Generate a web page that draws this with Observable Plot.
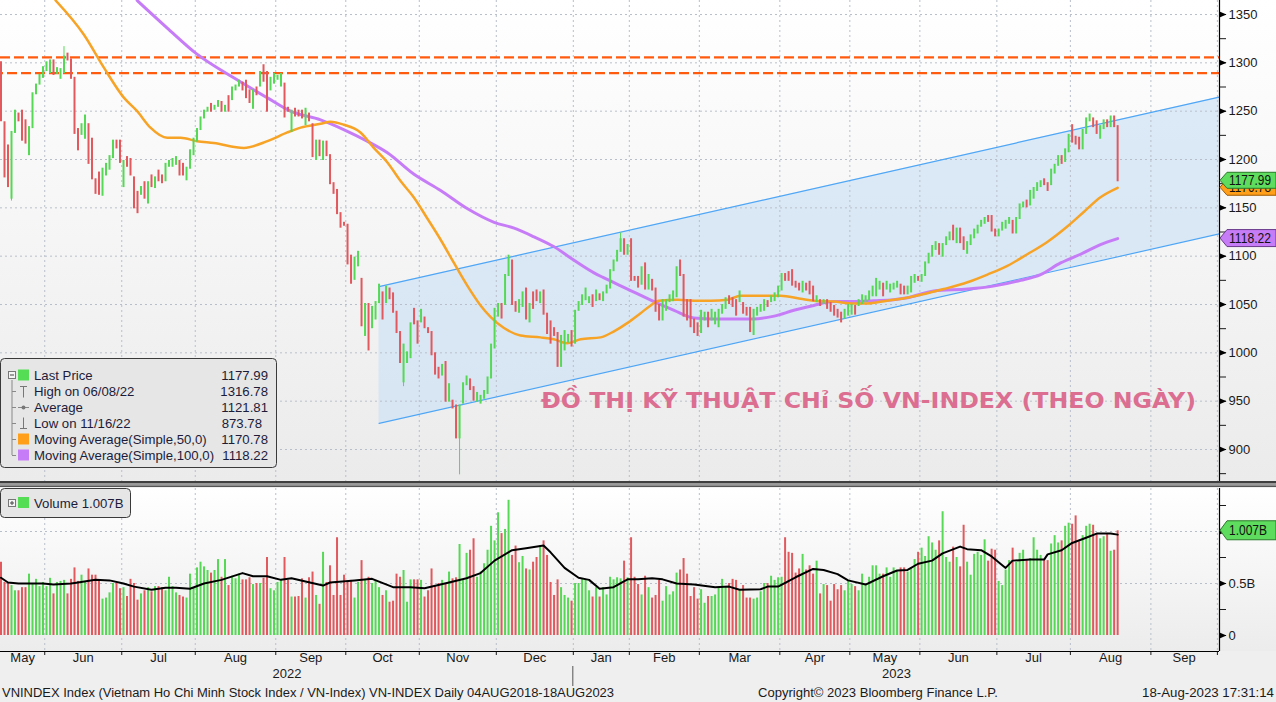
<!DOCTYPE html>
<html><head><meta charset="utf-8">
<script src="https://cdn.jsdelivr.net/npm/d3@7"></script>
<script src="https://cdn.jsdelivr.net/npm/@observablehq/plot@0.6"></script>
<style>
html,body{margin:0;padding:0;background:#efefef;}
#root{position:relative;width:1276px;height:702px;overflow:hidden;background:#efefef;}
#pricePanel{position:absolute;left:0;top:0;width:1276px;height:481px;background:linear-gradient(#ffffff,#ebebeb);}
#volPanel{position:absolute;left:0;top:488px;width:1276px;height:214px;background:linear-gradient(#ffffff 0px,#ececec 163px,#efefef 163px);}
#overlay{position:absolute;left:0;top:0;}
</style></head>
<body><div id="root"><div id="pricePanel"></div><div id="volPanel"></div></div>
<script>
// ---------------- DATA ----------------
const firstDay = "2022-05-13";
const holidays = ["2022-09-01","2022-09-02","2023-01-02","2023-01-20","2023-01-23","2023-01-24","2023-01-25","2023-01-26","2023-05-01","2023-05-02","2023-05-03","2023-09-01","2023-09-04"];

const openPx = [
1300,1238,1214,1160,1228,1247,1250,1240,1205,1233,
1268,1278,1285,1292,1290,1302,1289,1284,1290,1309,
1303,1284,1231,1226,1222,1236,1221,1179,1186,1163,
1184,1190,1202,1219,1219,1172,1202,1200,1181,1166,
1164,1176,1155,1183,1171,1188,1183,1178,1193,1193,
1195,1198,1195,1179,1191,1205,1219,1231,1243,1250,
1257,1252,1255,1259,1250,1265,1262,1272,1276,1279,
1281,1271,1253,1274,1276,1297,1290,1272,1279,1283,
1276,1278,1253,1229,1252,1250,1250,1236,1247,1236,
1200,1219,1200,1218,1204,1175,1168,1144,1134,1132,
1100,1076,1090,1076,1018,1050,1026,1035,1052,1062,
1052,1066,1061,1042,1021,970,990,995,1045,1032,
1032,1036,1025,1021,999,984,977,990,950,950,
945,912,948,967,972,964,950,948,953,958,
974,1005,1038,1050,1050,1080,1095,1052,1042,1048,
1066,1032,1062,1064,1052,1064,1040,1032,1025,1020,
986,1003,1011,1022,1010,1044,1050,1055,1052,1059,
1054,1060,1054,1062,1067,1085,1095,1105,1117,1102,
1117,1078,1078,1071,1092,1066,1075,1066,1049,1034,
1044,1053,1054,1058,1095,1080,1054,1054,1034,1030,
1021,1034,1041,1034,1030,1027,1041,1046,1058,1056,
1054,1053,1051,1046,1046,1019,1039,1043,1044,1053,
1053,1054,1058,1065,1081,1083,1085,1073,1071,1063,
1071,1073,1068,1053,1054,1051,1054,1051,1048,1044,
1041,1036,1039,1040,1048,1049,1051,1053,1055,1059,
1059,1066,1071,1066,1063,1066,1068,1070,1068,1061,
1063,1073,1078,1074,1080,1093,1100,1107,1112,1100,
1112,1117,1131,1114,1128,1119,1103,1112,1119,1124,
1131,1134,1141,1141,1127,1121,1127,1129,1134,1136,
1124,1139,1151,1157,1153,1160,1168,1172,1179,1175,
1174,1186,1194,1203,1198,1208,1235,1223,1222,1211,
1227,1240,1242,1239,1222,1232,1240,1234,1244,1234];

const closePx = [
1240,1182,1172,1228,1250,1240,1220,1217,1233,1268,
1277,1287,1295,1300,1302,1288,1294,1293,1306,1303,
1284,1227,1210,1236,1245,1196,1180,1165,1164,1190,
1195,1203,1219,1212,1197,1198,1193,1184,1150,1145,
1171,1160,1176,1172,1181,1178,1176,1195,1198,1200,
1202,1184,1184,1191,1209,1221,1231,1243,1250,1253,
1250,1255,1260,1250,1255,1250,1274,1276,1281,1272,
1264,1259,1271,1267,1290,1281,1250,1284,1288,1286,
1288,1244,1250,1250,1245,1245,1243,1252,1240,1203,
1219,1204,1218,1204,1175,1165,1144,1130,1132,1092,
1072,1098,1104,1028,1050,1003,1047,1052,1070,1035,
1068,1056,1042,1021,990,1008,1000,1030,1030,1010,
1044,1026,1021,998,978,974,987,950,967,943,
912,945,968,975,962,951,958,955,960,974,
1008,1045,1050,1036,1080,1100,1050,1043,1054,1062,
1035,1050,1046,1054,1062,1040,1020,1010,1018,986,
1017,1022,1018,1007,1043,1052,1059,1066,1057,1048,
1064,1055,1062,1069,1085,1095,1105,1117,1102,1111,
1075,1075,1068,1088,1066,1080,1065,1043,1034,1054,
1054,1059,1063,1088,1080,1038,1034,1027,1021,1018,
1043,1041,1027,1044,1041,1044,1049,1056,1051,1048,
1039,1063,1041,1039,1022,1044,1046,1049,1054,1048,
1058,1061,1068,1081,1075,1075,1070,1068,1065,1073,
1065,1061,1054,1058,1049,1054,1046,1043,1039,1037,
1032,1044,1049,1049,1040,1054,1059,1058,1063,1068,
1076,1073,1059,1073,1070,1071,1073,1061,1061,1068,
1078,1080,1075,1080,1093,1102,1110,1114,1102,1112,
1119,1124,1117,1128,1114,1107,1114,1121,1127,1131,
1136,1139,1136,1126,1121,1127,1134,1136,1139,1124,
1139,1153,1155,1151,1167,1170,1175,1177,1174,1168,
1189,1194,1203,1196,1210,1225,1218,1216,1211,1230,
1242,1246,1234,1227,1234,1240,1234,1244,1234,1177.99];

// notable wicks (trading-day number, high, low)
const wickDay  = [3, 18, 115, 131, 177];
const wickHigh = [1228, 1316.78, 1008, 945, 1124];
const wickLow  = [1157, 1290, 965, 873.78, 1105];

// volume in billions of shares
const volume = [
0.705,0.51,0.51,0.48,0.43,0.43,0.46,0.46,0.59,0.50,
0.54,0.47,0.51,0.47,0.55,0.40,0.51,0.52,0.53,0.40,
0.54,0.65,0.52,0.58,0.51,0.64,0.58,0.58,0.53,0.35,
0.36,0.41,0.50,0.50,0.45,0.46,0.375,0.54,0.50,0.34,
0.40,0.43,0.46,0.42,0.47,0.47,0.46,0.43,0.56,0.47,
0.41,0.385,0.37,0.36,0.59,0.46,0.65,0.705,0.66,0.625,
0.60,0.625,0.73,0.56,0.73,0.48,0.57,0.545,0.59,0.535,
0.535,0.555,0.49,0.50,0.50,0.55,0.75,0.45,0.43,0.51,
0.53,0.75,0.53,0.37,0.37,0.375,0.545,0.36,0.555,0.61,
0.385,0.30,0.80,0.51,0.67,0.385,0.94,0.385,0.58,0.51,
0.53,0.36,0.51,0.72,0.53,0.56,0.50,0.53,0.46,0.385,
0.43,0.32,0.33,0.59,0.56,0.625,0.32,0.535,0.535,0.535,
0.53,0.37,0.43,0.64,0.47,0.50,0.53,0.50,0.61,0.545,
0.555,0.875,0.53,0.79,0.82,0.93,0.56,0.61,0.69,0.82,
1.05,0.91,1.18,0.98,1.02,1.30,0.77,0.86,0.70,0.76,
0.64,0.63,0.705,0.75,0.865,0.91,0.77,0.51,0.385,0.535,
0.46,0.385,0.36,0.33,0.50,0.50,0.54,0.53,0.43,0.37,
0.46,0.37,0.46,0.39,0.56,0.535,0.555,0.545,0.715,0.555,
0.94,0.56,
0.49,0.39,0.57,0.46,0.36,0.385,0.53,0.33,0.47,0.39,
0.42,0.60,0.63,0.74,0.59,0.375,0.46,0.35,0.44,0.31,
0.375,0.375,0.39,0.465,0.54,0.465,0.50,0.54,0.53,0.43,
0.48,0.36,0.36,0.35,0.36,0.42,0.50,0.50,0.57,0.53,0.555,
0.56,0.94,0.80,0.79,0.60,0.64,0.78,0.63,0.67,0.59,
0.715,0.40,0.49,0.48,0.33,0.49,0.44,0.48,0.43,0.53,
0.49,0.47,0.43,0.59,0.50,0.56,0.67,0.67,0.59,0.59,
0.65,0.56,0.65,0.625,0.65,0.65,0.61,0.65,0.73,0.80,
0.84,0.76,0.95,0.89,0.82,0.91,1.19,0.75,0.705,0.85,
0.75,0.66,1.06,0.705,0.58,0.78,0.80,0.77,0.92,0.715,
0.83,0.82,0.52,0.48,0.63,0.72,0.84,0.705,0.79,0.82,
0.72,0.74,0.94,0.82,0.77,0.73,0.72,0.88,0.96,0.89,
0.91,1.05,1.08,1.07,1.15,0.90,0.96,1.05,1.07,1.06,
0.98,0.93,0.95,0.97,0.81,0.82,1.007];

// moving averages (trading-day number, value)
const ma50Day = [15.6,23.7,29.4,35.1,38.9,42.7,47.5,51.3,56,60.8,69.4,76.1,81.8,85.6,91.3,94.1,97.9,102.7,106.5,110.4,114.1,117.9,121.8,125.6,129.4,133.3,137,139.9,143.6,148.4,154.1,157.9,161.8,165.6,171.3,175,179,182.7,185.6,187.9,193.3,197.9,202.7,207.6,211.3,217,222.7,228.4,232.2,237.9,243.6,247.4,253.1,258.8,262.7,269.3,276.1,281.8,287.5,293.2,299,304.7,309.4,314.1,319];
const ma50Val = [1364.5,1329,1295,1264,1250,1233,1222.5,1222.5,1219,1217,1212,1219,1228,1233,1237,1239,1236,1228,1212,1197,1178,1161,1139,1117,1093,1069,1049,1037,1026,1018,1016,1014,1010,1014,1016,1022,1031,1041,1049,1054,1055,1054,1054,1055,1059,1059,1059,1056,1054,1053,1051,1051,1054,1057,1060,1066,1073,1081,1090,1102,1115,1131,1146,1161,1170.78];
const ma100Day = [38.9,47.5,56,66.5,76,82.7,91.3,97.9,104.6,110.4,117.9,125.6,133.3,140.9,146.6,152.3,157.9,163.6,169.3,172,179,186.6,192.3,198,203.7,209.4,215,220.9,226.5,232.2,237.9,243.6,249.3,255,259,266.5,276.1,283.5,291.3,297,302.7,308.4,314.1,319];
const ma100Val = [1364.5,1336,1309,1284.5,1264,1250,1241,1231,1219,1207,1185,1168,1149,1135,1129,1120,1110,1096,1083,1078,1066,1053,1044,1036,1035,1035,1035,1038,1044,1049,1053,1053,1054,1055,1057,1064,1066,1069,1075,1081,1093,1102,1112,1118.22];
const volMaDay = [0,2,5,12,15,20,22,27,31,35,38,43,47,50,54,58,63,69,72,76,80,83,87,92,94,101,106,112,117,121,128,133,137,141,146,150,155,157,161,165,168,171,175,179,182,186,189,193,198,204,208,211,217,219,222,227,232,235,239,242,247,252,256,259,262,266,269,274,276,280,283,287,289,294,298,299,303,306,310,313,317,319];
const volMaVal = [0.555,0.51,0.50,0.50,0.49,0.50,0.51,0.535,0.53,0.50,0.47,0.44,0.46,0.46,0.45,0.50,0.535,0.60,0.57,0.57,0.535,0.55,0.52,0.48,0.51,0.53,0.545,0.465,0.465,0.455,0.51,0.55,0.60,0.72,0.82,0.84,0.865,0.80,0.65,0.555,0.535,0.45,0.465,0.54,0.54,0.55,0.54,0.50,0.49,0.465,0.47,0.44,0.445,0.47,0.47,0.56,0.64,0.63,0.59,0.53,0.49,0.57,0.625,0.63,0.69,0.72,0.79,0.855,0.83,0.82,0.76,0.65,0.72,0.73,0.73,0.78,0.82,0.89,0.94,0.98,0.98,0.97];

// price channel and horizontal resistance levels
const channelDates = ["2022-10-14", "2023-10-02"];
const channelTop = [1068.5, 1264.5];
const channelBottom = [927, 1123];
const resistance = [1305.6, 1289.4];

const priceTicks = d3.range(875, 1351, 25);
const priceMajor = d3.range(900, 1351, 50);
const volTicks = [0, 0.25, 0.5, 0.75, 1, 1.25];
const volMajor = [0, 0.5, 1];

const legendRows = [
  {label: "Last Price", value: "1177.99", icon: "sq", color: "#55dd55"},
  {label: "High on 06/08/22", value: "1316.78", icon: "high"},
  {label: "Average", value: "1121.81", icon: "avg"},
  {label: "Low on 11/16/22", value: "873.78", icon: "low"},
  {label: "Moving Average(Simple,50,0)", value: "1170.78", icon: "sq", color: "#ff9f1a"},
  {label: "Moving Average(Simple,100,0)", value: "1118.22", icon: "sq", color: "#c77cf7"}
];
const titleText = "ĐỒ THỊ KỸ THUẬT CHỉ SỐ VN-INDEX (THEO NGÀY)";
const footLeft = "VNINDEX Index (Vietnam Ho Chi Minh Stock Index / VN-Index) VN-INDEX  Daily 04AUG2018-18AUG2023";
const footMid = "Copyright© 2023 Bloomberg Finance L.P.";
const footRight = "18-Aug-2023 17:31:14";

// ---------------- BUILD ----------------
const FONT = '"Liberation Sans", Arial, sans-serif';
const GREEN = "#55d955", RED = "#e1585d", GRID = "#b9bfca";

function tradingDays(start, count) {
  const out = []; const d = new Date(start + "T00:00:00Z");
  while (out.length < count) {
    const wd = d.getUTCDay(); const s = d.toISOString().slice(0, 10);
    if (wd !== 0 && wd !== 6 && !holidays.includes(s)) out.push(s);
    d.setUTCDate(d.getUTCDate() + 1);
  }
  return out;
}
const days = tradingDays(firstDay, 370);
const dayIdx = s => days.indexOf(s);
const xMin = -0.14;
const xMax = dayIdx("2023-09-29") + 1.1;

const bars = closePx.map((c, i) => ({i, o: openPx[i], c, v: volume[i], col: c >= openPx[i] ? GREEN : RED}));
const wicks = wickDay.map((d, k) => ({i: d, hi: wickHigh[k], lo: wickLow[k], col: bars[d].col}));
const ma50 = ma50Day.map((d, k) => ({i: d, v: ma50Val[k]}));
const ma100 = ma100Day.map((d, k) => ({i: d, v: ma100Val[k]}));
const volMa = volMaDay.map((d, k) => ({i: d, v: volMaVal[k]}));
const channel = channelDates.map((s, k) => ({i: dayIdx(s), hi: channelTop[k], lo: channelBottom[k]}));

// months
const months = [];
days.forEach((d, i) => {
  const m = d.slice(0, 7);
  if (!months.length || months[months.length - 1].m !== m) months.push({m, first: i, last: i});
  else months[months.length - 1].last = i;
});
const visMonths = months.filter(mm => mm.first - 0.5 < xMax);
const bounds = visMonths.slice(1).map(mm => mm.first - 0.5);
const monthLabels = visMonths.map(mm => {
  const a = Math.max(mm.first - 0.5, xMin), b = Math.min(mm.last + 0.5, xMax);
  return {c: (a + b) / 2, w: b - a, label: d3.utcFormat("%b")(new Date(mm.m + "-01T00:00:00Z"))};
}).filter(d => d.w > 5);
const yearBreak = dayIdx("2023-01-03") - 0.5;
const yearLabels = [{c: (xMin + yearBreak) / 2, label: "2022"}, {c: (yearBreak + xMax) / 2, label: "2023"}];

const triRight = {draw(ctx) { ctx.moveTo(0, -3); ctx.lineTo(7, 0); ctx.lineTo(0, 3); ctx.closePath(); }};

const price = Plot.plot({
  width: 1276, height: 481, marginTop: 0, marginBottom: 0, marginLeft: 0, marginRight: 57,
  style: {background: "transparent", fontFamily: FONT, fontSize: "13px", color: "#1a1a1a", overflow: "visible"},
  color: {type: "identity"},
  x: {domain: [xMin, xMax], axis: null},
  y: {domain: [866.9, 1364.5], axis: "right", ticks: priceTicks, tickFormat: d => d % 50 === 0 ? String(d) : "", tickSize: 6, tickPadding: 3, label: null},
  marks: [
    Plot.areaY(channel, {x: "i", y1: "lo", y2: "hi", fill: "#cfe2f6", fillOpacity: 0.7}),
    Plot.ruleY(priceMajor, {stroke: GRID, strokeDasharray: "2,3"}),
    Plot.ruleX(bounds, {stroke: GRID, strokeDasharray: "2,3"}),
    Plot.line(channel, {x: "i", y: "hi", stroke: "#4ea6f5", strokeWidth: 1.2}),
    Plot.line(channel, {x: "i", y: "lo", stroke: "#4ea6f5", strokeWidth: 1.2}),
    Plot.ruleY([resistance[0]], {stroke: "#ff5b0f", strokeWidth: 2.2, strokeDasharray: "10,4"}),
    Plot.ruleY([resistance[1]], {stroke: "#ff5b0f", strokeWidth: 2.2, strokeDasharray: "10,4", strokeDashoffset: 7}),
    Plot.line(ma100, {x: "i", y: "v", stroke: "#c77cf7", strokeWidth: 3, curve: "monotone-x"}),
    Plot.line(ma50, {x: "i", y: "v", stroke: "#f7a325", strokeWidth: 2.5, curve: "monotone-x"}),
    Plot.ruleX(wicks, {x: "i", y1: "lo", y2: "hi", stroke: "col", strokeWidth: 1}),
    Plot.ruleX(bars, {x: "i", y1: "o", y2: "c", stroke: "col", strokeWidth: 2, strokeLinecap: "square"}),
    Plot.ruleX([xMax], {stroke: "#000", strokeWidth: 1.2}),
    Plot.dot(priceMajor, {x: () => xMax, y: d => d, symbol: triRight, fill: "#000", stroke: null})
  ]
});
document.getElementById("pricePanel").appendChild(price);

const vol = Plot.plot({
  width: 1276, height: 214, marginTop: 0, marginBottom: 51, marginLeft: 0, marginRight: 57,
  style: {background: "transparent", fontFamily: FONT, fontSize: "13px", color: "#1a1a1a", overflow: "visible"},
  color: {type: "identity"},
  x: {domain: [xMin, xMax], axis: "bottom", ticks: bounds, tickFormat: () => "", tickSize: 4, label: null},
  y: {domain: [-0.1538, 1.4135], axis: "right", ticks: volTicks, tickFormat: d => d === 0 ? "0" : d === 0.5 ? "0.5B" : "", tickSize: 6, tickPadding: 3, label: null},
  marks: [
    Plot.ruleY([0.5, 1], {stroke: GRID, strokeDasharray: "2,3"}),
    Plot.ruleX(bounds, {stroke: GRID, strokeDasharray: "2,3"}),
    Plot.ruleX(bars, {x: "i", y1: 0, y2: "v", stroke: "col", strokeWidth: 2}),
    Plot.line(volMa, {x: "i", y: "v", stroke: "#000", strokeWidth: 2}),
    Plot.ruleX([xMax], {stroke: "#000", strokeWidth: 1.2}),
    Plot.ruleY([-0.1538], {stroke: "#000", strokeWidth: 1.2}),
    Plot.dot(volMajor, {x: () => xMax, y: d => d, symbol: triRight, fill: "#000", stroke: null}),
    Plot.text(monthLabels, {x: "c", text: "label", frameAnchor: "bottom", dy: 10, fontSize: 13, fill: "#1a1a1a"}),
    Plot.text(yearLabels, {x: "c", text: "label", frameAnchor: "bottom", dy: 26, fontSize: 13, fill: "#1a1a1a"})
  ]
});
document.getElementById("volPanel").appendChild(vol);

// ---------------- OVERLAY (annotations, legends, tags, footer) ----------------
const py = price.scale("y"), vy = vol.scale("y"), vx = vol.scale("x");
const svg = d3.select("#root").append("svg").attr("id", "overlay").attr("width", 1276).attr("height", 702)
  .style("font-family", FONT);

// panel separator
svg.append("rect").attr("x", 0).attr("y", 481).attr("width", 1276).attr("height", 2.5).attr("fill", "#3f3f3f");
svg.append("rect").attr("x", 0).attr("y", 483.5).attr("width", 1276).attr("height", 2).attr("fill", "#9a9a9a");
svg.append("rect").attr("x", 0).attr("y", 485.5).attr("width", 1276).attr("height", 1.5).attr("fill", "#555");

// year separator tick
svg.append("line").attr("x1", vx.apply(yearBreak)).attr("x2", vx.apply(yearBreak)).attr("y1", 666).attr("y2", 686).attr("stroke", "#555");

// title annotation
svg.append("text").attr("x", 541).attr("y", 408).attr("font-family", '"DejaVu Sans", sans-serif').attr("font-weight", "bold")
  .attr("font-size", 21).attr("fill", "#dc6e91").attr("textLength", 655).attr("lengthAdjust", "spacingAndGlyphs").text(titleText);

// value tags
function tag(yPix, label, fill, stroke, h, tl) {
  const x0 = 1220, g = svg.append("g");
  g.append("path").attr("d", `M${x0},${yPix}L${x0 + 7},${yPix - h / 2}H1276V${yPix + h / 2}H${x0 + 7}Z`).attr("fill", fill).attr("stroke", stroke);
  g.append("text").attr("x", x0 + 9).attr("y", yPix).attr("dy", "0.36em").attr("font-size", 14).attr("fill", "#111")
    .attr("textLength", tl).attr("lengthAdjust", "spacingAndGlyphs").text(label);
}
const lastClose = closePx[closePx.length - 1];
tag(py.apply(ma50Val[ma50Val.length - 1]), ma50Val[ma50Val.length - 1].toFixed(2), "#ff9f1a", "#a05a00", 16, 42);
tag(py.apply(lastClose), lastClose.toFixed(2), "#5ddc5d", "#2a7a2a", 16, 42);
tag(py.apply(ma100Val[ma100Val.length - 1]), ma100Val[ma100Val.length - 1].toFixed(2), "#c77cf7", "#6a3a8a", 17, 42);
tag(488 + vy.apply(volume[volume.length - 1]), volume[volume.length - 1].toFixed(3) + "B", "#5ddc5d", "#2a7a2a", 19, 38);

// price legend box
const lg = svg.append("g");
lg.append("rect").attr("x", 0.5).attr("y", 358.5).attr("width", 276).attr("height", 109).attr("rx", 4)
  .attr("fill", "#e6e6e6").attr("stroke", "#3a3a3a");
lg.append("line").attr("x1", 12).attr("x2", 12).attr("y1", 380).attr("y2", 455).attr("stroke", "#888");
lg.append("rect").attr("x", 8.5).attr("y", 371.5).attr("width", 7).attr("height", 7).attr("fill", "#f4f4f4").attr("stroke", "#777");
lg.append("line").attr("x1", 10).attr("x2", 14).attr("y1", 375).attr("y2", 375).attr("stroke", "#444");
legendRows.forEach((r, k) => {
  const cy = 375.5 + k * 16;
  if (k > 0) lg.append("line").attr("x1", 12).attr("x2", 16).attr("y1", cy).attr("y2", cy).attr("stroke", "#888");
  if (r.icon === "sq") lg.append("rect").attr("x", 18).attr("y", cy - 6).attr("width", 11).attr("height", 11).attr("fill", r.color);
  if (r.icon === "high") { lg.append("path").attr("d", `M20,${cy - 5}H27M23.5,${cy - 5}V${cy + 6}`).attr("stroke", "#777").attr("fill", "none"); }
  if (r.icon === "low") { lg.append("path").attr("d", `M20,${cy + 5}H27M23.5,${cy + 5}V${cy - 6}`).attr("stroke", "#777").attr("fill", "none"); }
  if (r.icon === "avg") { lg.append("path").attr("d", `M18,${cy}H29`).attr("stroke", "#888"); lg.append("circle").attr("cx", 23.5).attr("cy", cy).attr("r", 2).attr("fill", "#777"); }
  lg.append("text").attr("x", 34).attr("y", cy).attr("dy", "0.36em").attr("font-size", 13.2).attr("fill", "#1c1c3a").text(r.label);
  lg.append("text").attr("x", r.icon === "low" ? 262 : 268).attr("y", cy).attr("dy", "0.36em").attr("text-anchor", "end").attr("font-size", 13.2).attr("fill", "#1c1c3a").text(r.value);
});

// volume legend box
const vg = svg.append("g");
vg.append("rect").attr("x", 0.5).attr("y", 488.5).attr("width", 130).attr("height", 29).attr("rx", 4).attr("fill", "#e6e6e6").attr("stroke", "#3a3a3a");
vg.append("rect").attr("x", 8.5).attr("y", 499.5).attr("width", 7).attr("height", 7).attr("fill", "#f4f4f4").attr("stroke", "#777");
vg.append("path").attr("d", "M10,503H14M12,501V505").attr("stroke", "#444");
vg.append("rect").attr("x", 18).attr("y", 497).attr("width", 11).attr("height", 11).attr("fill", "#55dd55");
vg.append("text").attr("x", 34).attr("y", 503).attr("dy", "0.36em").attr("font-size", 13.2).attr("fill", "#1c1c3a").text("Volume " + volume[volume.length - 1].toFixed(3) + "B");

// footer
function foot(x, text, w) {
  svg.append("text").attr("x", x).attr("y", 697).attr("font-size", 12.5).attr("fill", "#1a1a1a")
    .attr("textLength", w).attr("lengthAdjust", "spacingAndGlyphs").text(text);
}
foot(2, footLeft, 612);
foot(758, footMid, 240);
foot(1142, footRight, 132);
</script>
</body></html>
